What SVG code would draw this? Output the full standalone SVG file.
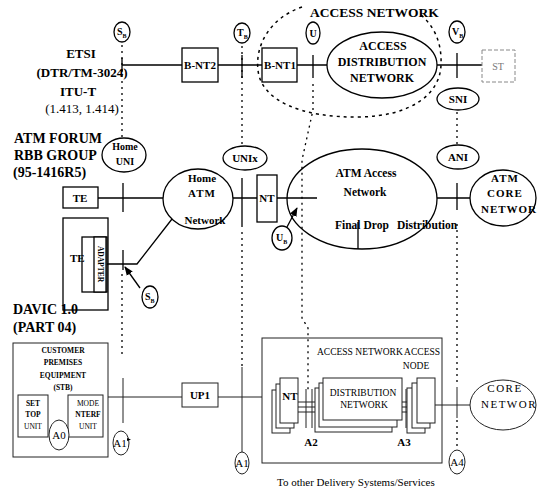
<svg xmlns="http://www.w3.org/2000/svg" width="548" height="492" viewBox="0 0 548 492">
<defs>
<style>
.ln{stroke:#000;stroke-width:1.3;fill:none}
.lt{stroke:#222;stroke-width:1;fill:none}
.sh{stroke:#000;stroke-width:1.3;fill:#fff}
.st{stroke:#222;stroke-width:1;fill:#fff}
.dot{stroke:#000;stroke-width:1.3;stroke-dasharray:2 4;fill:none}
.dsh{stroke:#000;stroke-width:1.5;stroke-dasharray:3 4;fill:none}
text{font-family:"Liberation Serif","Times New Roman",serif;fill:#000}
.b{font-weight:bold}
.m{text-anchor:middle}
</style>
<marker id="ah" viewBox="0 0 10 10" refX="9" refY="5" markerWidth="7" markerHeight="7" orient="auto"><path d="M0,1 L10,5 L0,9 Z" fill="#000"/></marker>
</defs>
<rect width="548" height="492" fill="#fff"/>

<!-- connectors -->
<g id="connectors">
<path class="dsh" d="M302,7 C270,18 255,45 258,70 C261,100 300,118 360,117 C410,116 440,95 441,65 C442,42 434,26 420,14"/>
<path class="ln" d="M122,65 H182 M218,65 H262 M297,65 H327 M437,65 H482"/>
<path class="ln" d="M242,55 V78 M313,55 V78 M457,53 V78 M122,58 V72"/>
<path class="dot" d="M122,45 V137 M242,46 V146 M457,112 V145"/>
<path class="dot" d="M313,84 L313,110 L302,160 L302,318 L308,328 L308,392"/>
<path class="ln" d="M98,198 H163 M233,198 H257 M277,198 H317 M437,198 H470"/>
<path class="ln" d="M123,183 V212 M242,178 V227 M457,183 V210 M358,222 V249"/>
<path class="ln" d="M106,264 H137 L172,219 M82,264 H94 M123,250 V270"/>
<path class="ln" d="M140,288 L125,267" marker-end="url(#ah)"/>
<path class="ln" d="M287,227 L297,208" marker-end="url(#ah)"/>
<path class="dot" d="M122,274 V358 M242,232 V366 M457,224 V385 M457,420 V450"/>
<path class="lt" d="M108,397 H182 M218,397 H262 M123,378 V423 M242,367 V452"/>
<path class="lt" d="M298,402 H323 M298,407 H323 M298,412 H323 M402,402 H417 M402,407 H417 M402,412 H417"/>
<path class="lt" d="M306,389 V428 M312,389 V428 M406,389 V428 M411,389 V428"/>
<path class="lt" d="M435,405 H470 M457,387 V418"/>
<path class="lt" d="M58,395 V420 M48,410 H68"/>
</g>

<!-- top row -->
<g id="sb_top"><ellipse class="sh" cx="122" cy="32" rx="8" ry="10"/><text class="b" x="117" y="35" font-size="10">S<tspan font-size="6" dy="3">B</tspan></text></g>
<g id="tb"><ellipse class="sh" cx="242" cy="33" rx="8" ry="10"/><text class="b" x="237" y="36" font-size="10">T<tspan font-size="6" dy="3">B</tspan></text></g>
<g id="u"><ellipse class="sh" cx="313" cy="33" rx="7" ry="11"/><text class="b m" x="313" y="37" font-size="10">U</text></g>
<g id="vb"><ellipse class="sh" cx="457" cy="32" rx="8" ry="11"/><text class="b" x="452" y="35" font-size="10">V<tspan font-size="6" dy="3">B</tspan></text></g>
<g id="bnt2"><rect class="sh" x="182" y="48" width="36" height="34"/><text class="b m" x="200" y="69" font-size="11">B-NT2</text></g>
<g id="bnt1"><rect class="sh" x="262" y="48" width="35" height="34"/><text class="b m" x="280" y="69" font-size="11">B-NT1</text></g>
<g id="adn"><ellipse class="sh" cx="382" cy="65" rx="55" ry="33"/>
<text class="b m" x="383" y="50" font-size="12">ACCESS</text>
<text class="b m" x="382" y="66" font-size="12">DISTRIBUTION</text>
<text class="b m" x="382" y="82" font-size="12">NETWORK</text></g>
<g id="st"><rect x="482" y="50" width="33" height="32" fill="#fff" stroke="#888" stroke-width="1" stroke-dasharray="4 2"/><text class="m" x="498" y="70" font-size="10" style="fill:#777">ST</text></g>
<g id="sni"><ellipse class="sh" cx="458" cy="99" rx="21" ry="11"/><text class="b m" x="458" y="103" font-size="11">SNI</text></g>

<!-- middle row -->
<g id="homeuni"><ellipse class="sh" cx="124" cy="155" rx="22" ry="17"/><text class="b m" x="125" y="150" font-size="10">Home</text><text class="b m" x="125" y="165" font-size="10">UNI</text></g>
<g id="unix"><ellipse class="sh" cx="245" cy="158" rx="22" ry="12"/><text class="b m" x="245" y="162" font-size="11">UNIx</text></g>
<g id="ani"><ellipse class="sh" cx="458" cy="157" rx="21" ry="12"/><text class="b m" x="458" y="161" font-size="11">ANI</text></g>
<g id="te1"><rect class="sh" x="63" y="187" width="35" height="21"/><text class="b m" x="80" y="202" font-size="11">TE</text></g>
<g id="homeatm"><ellipse class="sh" cx="198" cy="199" rx="35" ry="30"/>
<text class="b m" x="202" y="182" font-size="11">Home</text>
<text class="b m" x="202" y="197" font-size="11" letter-spacing="1">ATM</text>
<text class="b m" x="205" y="224" font-size="11">Network</text></g>
<g id="nt"><rect class="sh" x="257" y="175" width="20" height="47"/><text class="b m" x="267" y="202" font-size="11">NT</text></g>
<g id="atmaccess"><ellipse class="ln" cx="362" cy="199" rx="75" ry="50"/>
<text class="b m" x="366" y="177" font-size="11.5">ATM Access</text>
<text class="b m" x="365" y="196" font-size="11.5">Network</text>
<text class="b" x="335" y="229" font-size="11.5">Final Drop</text>
<text class="b" x="397" y="229" font-size="11.5">Distribution</text></g>
<g id="atmcore"><ellipse class="sh" cx="503" cy="198" rx="33" ry="28"/>
<text class="b m" x="505" y="182" font-size="11" letter-spacing="1">ATM</text>
<text class="b m" x="505" y="197" font-size="11" letter-spacing="1">CORE</text>
<text class="b m" x="509" y="213" font-size="11" letter-spacing="1">NETWOR</text></g>
<g id="te2"><rect class="ln" x="63" y="218" width="45" height="92"/>
<rect class="sh" x="82" y="237" width="25" height="55"/>
<rect class="sh" x="94" y="237" width="12" height="55"/>
<text class="b" x="70" y="262" font-size="11">TE</text>
<text class="b m" font-size="7.5" transform="translate(97.5,264) rotate(90)">ADAPTER</text></g>
<g id="sb_low"><ellipse class="sh" cx="150" cy="297" rx="8" ry="11"/><text class="b" x="145" y="300" font-size="10">S<tspan font-size="6" dy="3">B</tspan></text></g>
<g id="ub"><ellipse class="sh" cx="282" cy="238" rx="10" ry="12"/><text class="b" x="276" y="241" font-size="10">U<tspan font-size="6" dy="3">B</tspan></text></g>

<!-- lower row -->
<g id="cpe"><rect class="st" x="13" y="343" width="95" height="114"/>
<text class="b m" x="63" y="353" font-size="7.5">CUSTOMER</text>
<text class="b m" x="63" y="365" font-size="7.5">PREMISES</text>
<text class="b m" x="63" y="378" font-size="7.5">EQUIPMENT</text>
<text class="b m" x="63" y="390" font-size="7.5">(STB)</text>
<rect class="st" x="18" y="395" width="30" height="42"/>
<text class="b m" x="33" y="406" font-size="7.5">SET</text>
<text class="b m" x="33" y="417" font-size="7.5">TOP</text>
<text class="m" x="33" y="429" font-size="7.5">UNIT</text>
<rect class="st" x="68" y="395" width="35" height="42"/>
<text class="m" x="88" y="406" font-size="7.5">MODE</text>
<text class="b m" x="88" y="417" font-size="7.5">NTERF</text>
<text class="m" x="88" y="429" font-size="7.5">UNIT</text></g>
<g id="a0"><ellipse class="st" cx="59" cy="435" rx="10" ry="15"/><text class="m" x="59" y="439" font-size="11">A0</text></g>
<g id="a1s"><ellipse class="st" cx="121" cy="443" rx="8" ry="12"/><text class="m" x="120" y="447" font-size="11">A1</text><path d="M127,438 l4,1.5 l-4,1.5 z" fill="#000"/></g>
<g id="up1"><rect class="st" x="182" y="383" width="36" height="24"/><text class="b m" x="200" y="399" font-size="11">UP1</text></g>
<g id="a1"><ellipse class="st" cx="242" cy="463" rx="7" ry="11"/><text class="m" x="242" y="467" font-size="11">A1</text></g>
<g id="accessnet"><rect class="lt" x="262" y="338" width="180" height="125"/>
<text x="317" y="355" font-size="9.5">ACCESS NETWORK</text>
<text x="440" y="355" font-size="9.5" text-anchor="end">ACCESS</text>
<text x="416" y="369" font-size="9.5" text-anchor="middle">NODE</text></g>
<g id="ntstack"><rect class="st" x="272" y="390" width="18" height="43"/><rect class="st" x="276" y="384" width="18" height="44"/><rect class="st" x="280" y="378" width="18" height="45"/><text class="b m" x="290" y="400" font-size="11">NT</text></g>
<g id="diststack"><rect class="st" x="315" y="388" width="77" height="44"/><rect class="st" x="319" y="383" width="78" height="44"/><rect class="st" x="323" y="378" width="79" height="42"/>
<text class="m" x="363" y="396" font-size="9.5">DISTRIBUTION</text><text class="m" x="364" y="408" font-size="9.5">NETWORK</text></g>
<g id="nodestack"><rect class="st" x="407" y="388" width="18" height="45"/><rect class="st" x="412" y="383" width="18" height="45"/><rect class="st" x="417" y="378" width="18" height="45"/></g>
<g id="a2"><text class="b m" x="311" y="446" font-size="11">A2</text></g>
<g id="a3"><text class="b m" x="404" y="446" font-size="11">A3</text></g>
<g id="a4"><ellipse class="st" cx="457" cy="462" rx="8" ry="12"/><text class="m" x="457" y="466" font-size="11">A4</text></g>
<g id="core"><ellipse class="st" cx="503" cy="405" rx="33" ry="25"/>
<text class="m" x="505" y="392" font-size="11" letter-spacing="1.5">CORE</text>
<text class="m" x="509" y="408" font-size="11" letter-spacing="1.5">NETWOR</text></g>

<!-- standards labels -->
<g id="labels">
<text class="b m" x="81" y="58" font-size="13">ETSI</text>
<text class="b m" x="82" y="77" font-size="13">(DTR/TM-3024)</text>
<text class="b m" x="78" y="96" font-size="13">ITU-T</text>
<text class="m" x="82" y="113" font-size="13">(1.413, 1.414)</text>
<text class="b" x="14" y="143" font-size="14">ATM FORUM</text>
<text class="b" x="14" y="160" font-size="14">RBB GROUP</text>
<text class="b" x="13" y="177" font-size="14">(95-1416R5)</text>
<text class="b" x="13" y="314" font-size="14">DAVIC 1.0</text>
<text class="b" x="13" y="332" font-size="14">(PART 04)</text>
<text class="b" x="310" y="17" font-size="13.5">ACCESS NETWORK</text>
<text x="277" y="486" font-size="11">To other Delivery Systems/Services</text>
</g>
</svg>
